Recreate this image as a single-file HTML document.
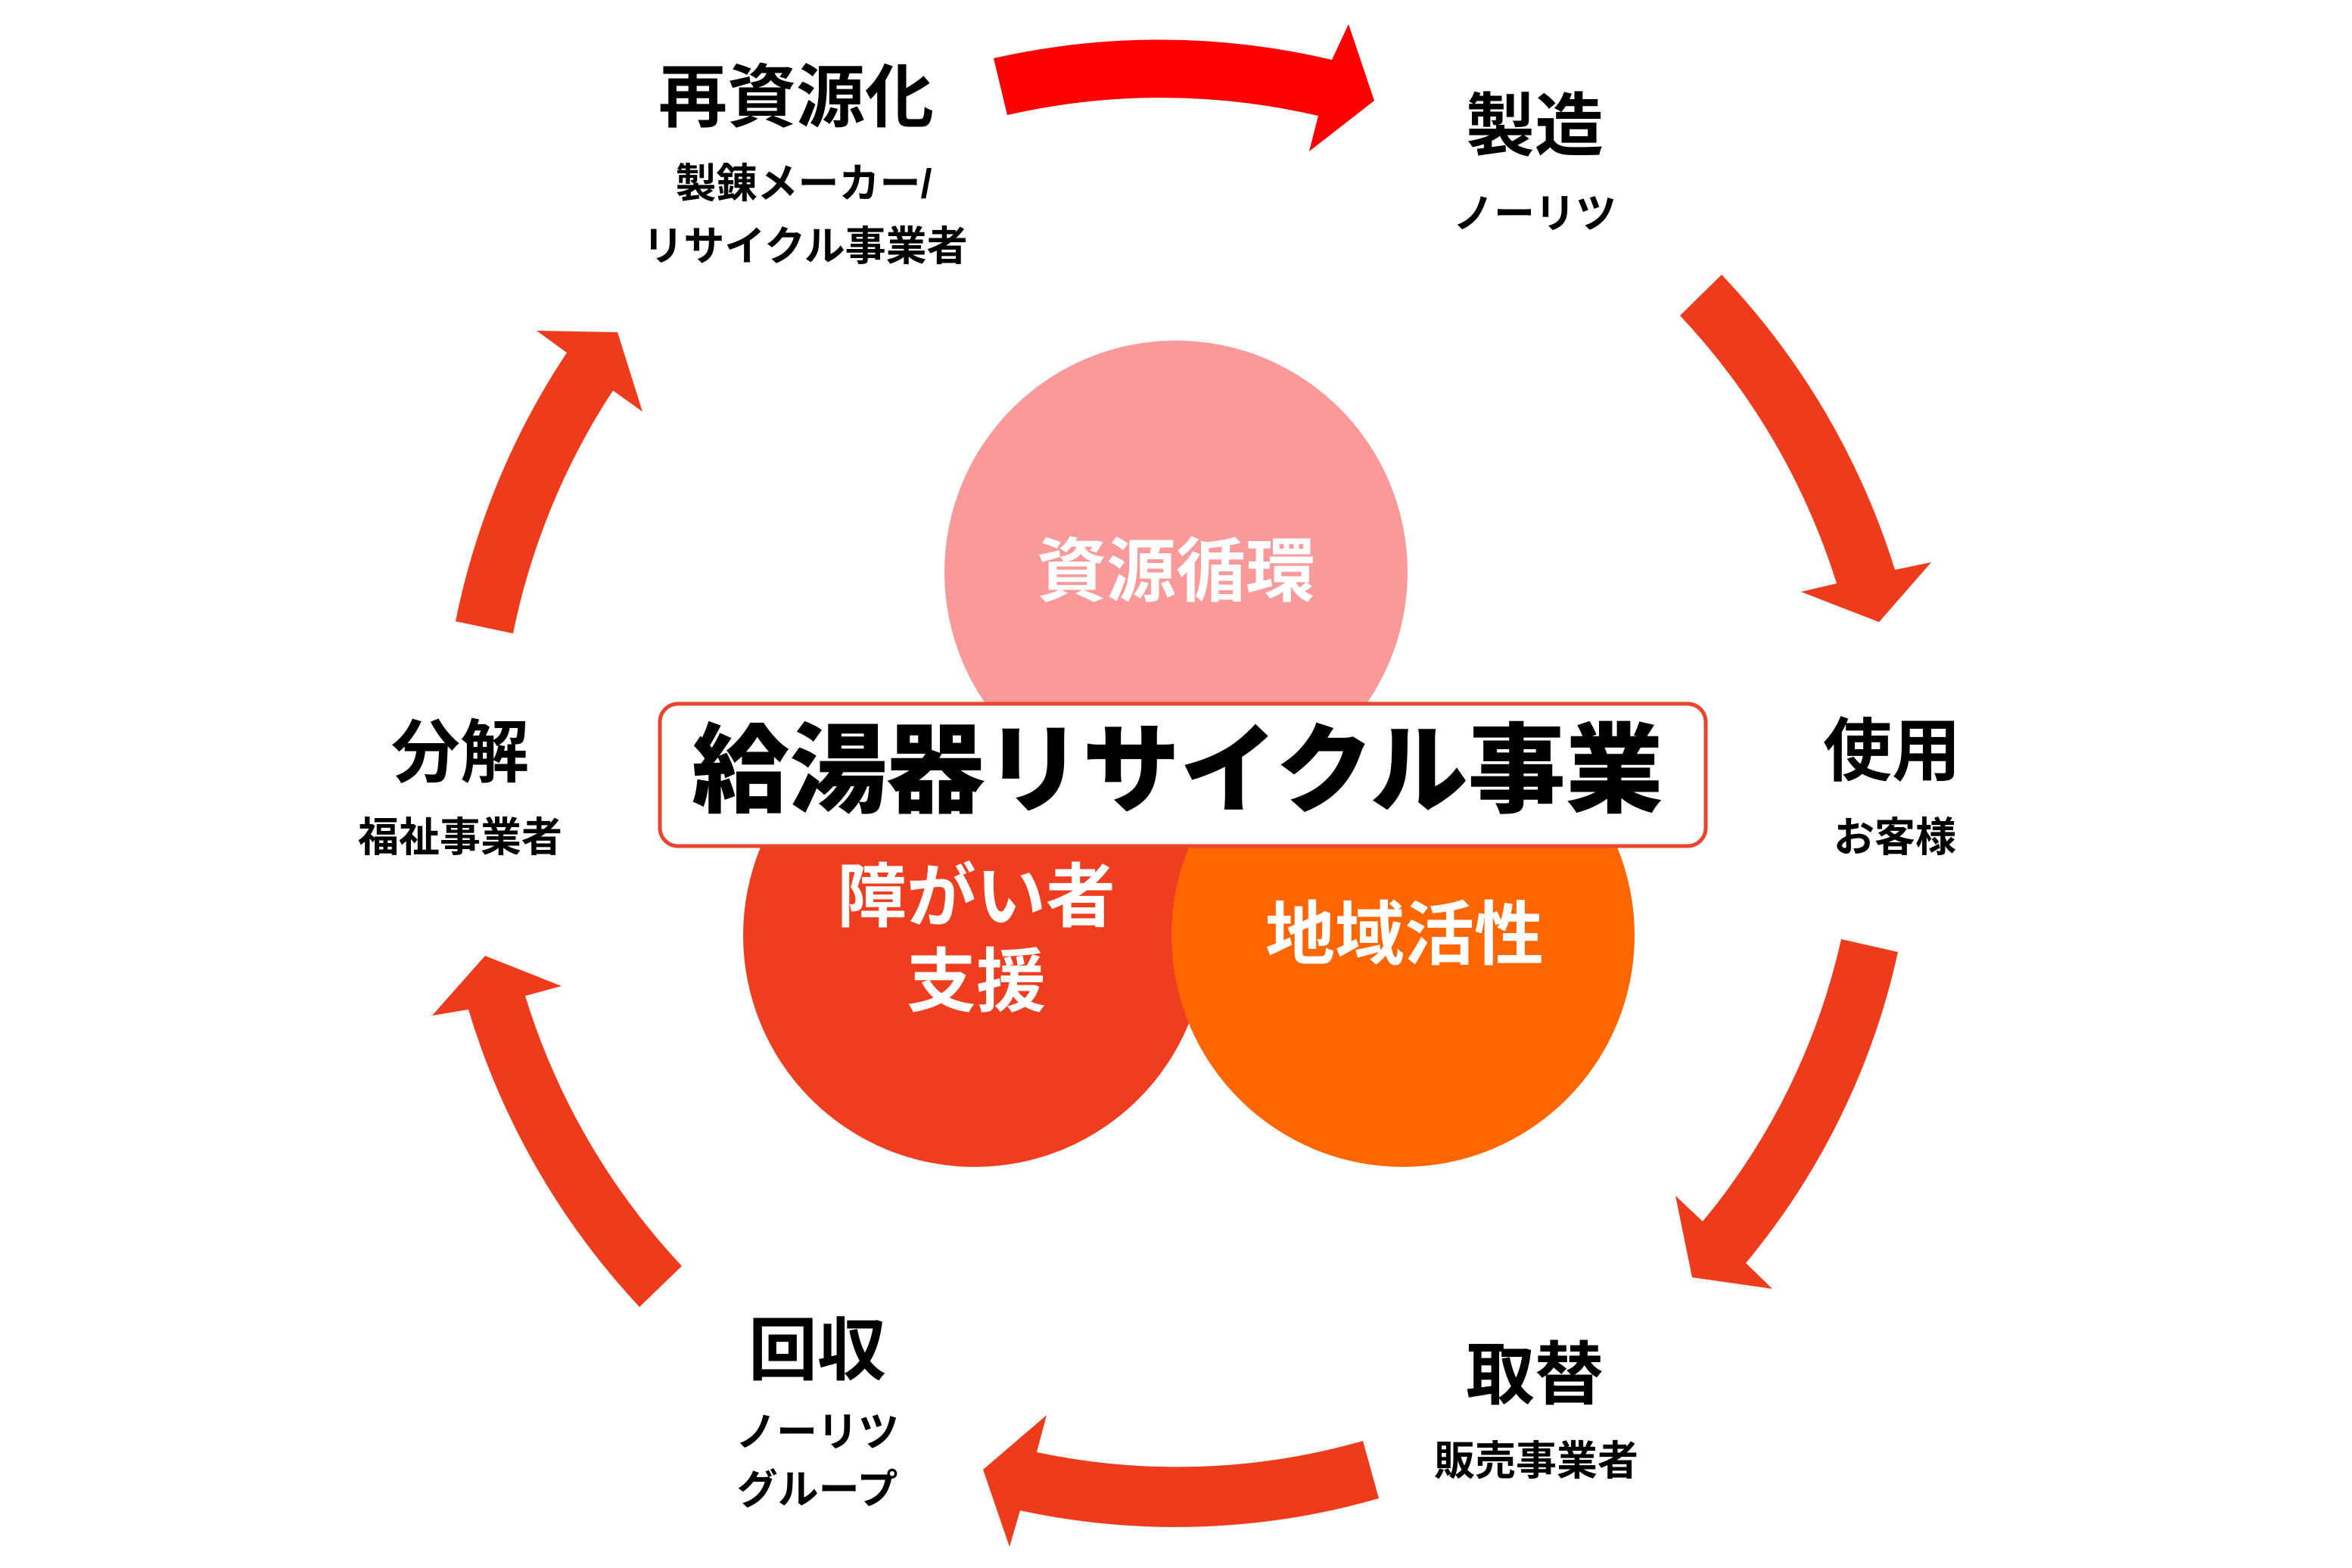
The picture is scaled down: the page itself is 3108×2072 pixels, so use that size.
<!DOCTYPE html>
<html><head><meta charset="utf-8">
<style>
html,body{margin:0;padding:0;background:#fff;}
body{width:3108px;height:2072px;position:relative;overflow:hidden;font-family:"Liberation Sans","Noto Sans CJK JP",sans-serif;}
.l{position:absolute;transform:translateX(-50%);text-align:center;white-space:nowrap;color:#000;font-weight:700;}
.t{font-size:91px;line-height:1;}
.s{font-size:54px;line-height:1;font-weight:700;}
.w{color:#fff;font-size:92px;line-height:1;}
</style></head><body>
<svg width="3108" height="2072" style="position:absolute;left:0;top:0">
  <circle cx="1554" cy="756" r="306" fill="#FA9999"/>
  <circle cx="1288" cy="1236" r="306" fill="#EE3D1F"/>
  <circle cx="1854" cy="1236" r="306" fill="#FF6600"/>
  <path d="M1313,77 A993,993 0 0 1 1760,79 L1782,32 L1816,133 L1730,200 L1742,153 A915,915 0 0 0 1331,152 Z" fill="#FF0000"/>
  <path d="M2275,363 A993,993 0 0 1 2504,753 L2552,743 L2483,822 L2380,782 L2427,771 A915,915 0 0 0 2220,417 Z" fill="#EE3B1C"/>
  <path d="M2508,1258 A966,966 0 0 1 2307,1669 L2342,1703 L2236,1688 L2214,1580 L2250,1614 A888,888 0 0 0 2433,1241 Z" fill="#EE3B1C"/>
  <path d="M1822,1980 A972,972 0 0 1 1348,1996 L1334,2044 L1299,1942 L1383,1870 L1370,1919 A893,893 0 0 0 1801,1904 Z" fill="#EE3B1C"/>
  <path d="M845,1727 A993,993 0 0 1 619,1334 L571,1342 L641,1263 L742,1303 L694,1316 A915,915 0 0 0 901,1673 Z" fill="#EE3B1C"/>
  <path d="M602,821 A997,997 0 0 1 749,466 L709,437 L816,439 L849,544 L810,516 A919,919 0 0 0 678,837 Z" fill="#EE3B1C"/>
  <rect x="872" y="930" width="1382" height="188" rx="24" ry="24" fill="#fff" stroke="#E8452C" stroke-width="5"/>
</svg>
<div class="l" style="left:1556px;top:955px;font-size:129px;line-height:1;font-weight:900;">給湯器リサイクル事業</div>
<div class="l w" style="left:1554px;top:710px;">資源循環</div>
<div class="l w" style="left:1290px;top:1130px;line-height:112px;">障がい者<br>支援</div>
<div class="l w" style="left:1856px;top:1190px;">地域活性</div>

<div class="l t" style="left:1052px;top:84px;">再資源化</div>
<div class="l s" style="left:1062px;top:216px;">製錬メーカー/</div>
<div class="l s" style="left:1064px;top:299px;">リサイクル事業者</div>

<div class="l t" style="left:2028px;top:122px;">製造</div>
<div class="l s" style="left:2028px;top:256px;">ノーリツ</div>

<div class="l t" style="left:2500px;top:948px;">使用</div>
<div class="l s" style="left:2504px;top:1080px;">お客様</div>

<div class="l t" style="left:2028px;top:1772px;">取替</div>
<div class="l s" style="left:2030px;top:1904px;">販売事業者</div>

<div class="l t" style="left:1080px;top:1740px;">回収</div>
<div class="l s" style="left:1080px;top:1866px;">ノーリツ</div>
<div class="l s" style="left:1080px;top:1942px;">グループ</div>

<div class="l t" style="left:608px;top:950px;">分解</div>
<div class="l s" style="left:608px;top:1080px;">福祉事業者</div>
</body></html>
